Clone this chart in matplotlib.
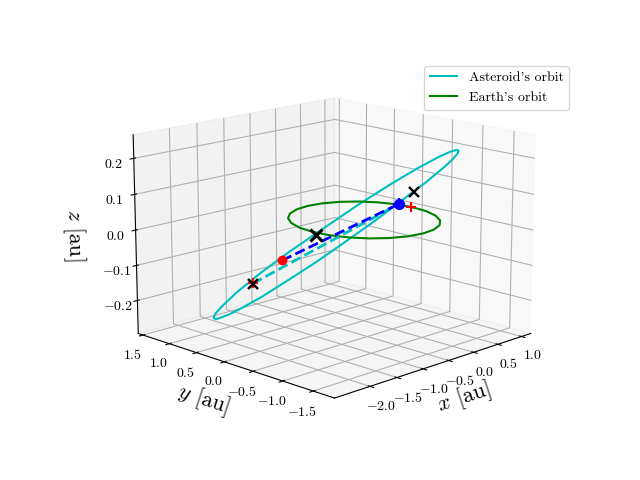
#!/usr/bin/env python3
import matplotlib

matplotlib.use("Agg")
import matplotlib.pyplot as plt

plt.rcParams["font.family"] = ["cmr10", "DejaVu Serif"]
plt.rcParams["mathtext.fontset"] = "cm"
plt.rcParams["axes.formatter.use_mathtext"] = True
plt.rcParams["axes.unicode_minus"] = False

# asteroid orbit
AST_X = [0.984, 0.86, 0.629, 0.305, -0.09, -0.526, -0.976, -1.268, -1.543, -1.673, -1.794, -1.907,
         -2.012, -2.105, -2.19, -2.325, -2.432, -2.424, -2.3, -2.068, -1.743, -1.349, -0.912, -0.462,
         -0.17, 0.105, 0.235, 0.355, 0.469, 0.574, 0.667, 0.751, 0.885, 0.992, 0.984]
AST_Y = [0.171, 0.543, 0.87, 1.128, 1.302, 1.378, 1.352, 1.278, 1.162, 1.089, 1.006, 0.914,
         0.816, 0.71, 0.598, 0.358, -0.029, -0.421, -0.797, -1.128, -1.388, -1.565, -1.643, -1.617,
         -1.543, -1.426, -1.352, -1.269, -1.177, -1.078, -0.97, -0.857, -0.616, -0.225, 0.171]
AST_Z = [0.015, -0.056, -0.123, -0.184, -0.232, -0.267, -0.283, -0.284, -0.276, -0.27, -0.262, -0.25,
         -0.239, -0.225, -0.209, -0.174, -0.111, -0.043, 0.026, 0.091, 0.151, 0.199, 0.232, 0.248,
         0.249, 0.242, 0.235, 0.228, 0.217, 0.205, 0.192, 0.176, 0.142, 0.081, 0.015]

# earth orbit
EARTH_X = [1.0, 0.966, 0.866, 0.707, 0.5, 0.259, 0.0, -0.259, -0.5, -0.707, -0.866, -0.966,
           -1.0, -0.966, -0.866, -0.707, -0.5, -0.259, 0.0, 0.259, 0.5, 0.707, 0.866, 0.966, 1.0]
EARTH_Y = [0.0, 0.259, 0.5, 0.707, 0.866, 0.966, 1.0, 0.966, 0.866, 0.707, 0.5, 0.259,
           0.0, -0.259, -0.5, -0.707, -0.866, -0.966, -1.0, -0.966, -0.866, -0.707, -0.5, -0.259, 0.0]
EARTH_Z = [0.0] * 25

# positions of the markers
RED_DOT = (-1.82, -0.23, -0.039)
BLUE_DOT = (1.0, 0.245, 0.0)
BLACK_X = [-2.18, -0.955, 1.01]
BLACK_Y = [-0.06, -0.015, -0.015]
BLACK_Z = [-0.096, -0.009, 0.045]
RED_PLUS_X = [-2.175, 1.005]
RED_PLUS_Y = [-0.06, 0.04]
RED_PLUS_Z = [-0.095, 0.0]

X_TICKS = [-2.0, -1.5, -1.0, -0.5, 0.0, 0.5, 1.0]
Y_TICKS = [-1.5, -1.0, -0.5, 0.0, 0.5, 1.0, 1.5]
Z_TICKS = [-0.2, -0.1, 0.0, 0.1, 0.2]


def labels(ticks):
    return [f"${t:.1f}$" for t in ticks]


def main():
    fig = plt.figure(figsize=(6.4, 4.8), dpi=100)
    ax = fig.add_subplot(projection="3d")
    ax.set_proj_type("persp", focal_length=1.0)
    ax.set_box_aspect((4, 4, 2.92), zoom=1.175)
    pos = ax.get_position()
    ax.set_position([pos.x0 + 1.5 / 640, pos.y0 + 2 / 480, pos.width, pos.height])

    ax.plot(AST_X, AST_Y, AST_Z, color="c", label="Asteroid's orbit")
    ax.plot(EARTH_X, EARTH_Y, EARTH_Z, color="g", label="Earth's orbit")

    ax.plot([BLACK_X[0], BLUE_DOT[0]], [BLACK_Y[0], BLUE_DOT[1]], [BLACK_Z[0], BLUE_DOT[2]],
            color="c", ls="--", lw=2)
    ax.plot([RED_DOT[0], BLUE_DOT[0]], [RED_DOT[1], BLUE_DOT[1]], [RED_DOT[2], BLUE_DOT[2]],
            color="b", ls="--", lw=2)

    ax.plot(*[[v] for v in RED_DOT], "o", color="r", ms=6)
    ax.plot(*[[v] for v in BLUE_DOT], "o", color="b", ms=7)
    ax.plot(*[[v] for v in BLUE_DOT], "+", color="b", ms=9, mew=1.5)
    ax.plot(RED_PLUS_X, RED_PLUS_Y, RED_PLUS_Z, "+", color="r", ms=7, mew=1.5, ls="none")
    ax.plot(BLACK_X[0::2], BLACK_Y[0::2], BLACK_Z[0::2], "x", color="k", ms=7, mew=1.7, ls="none")
    # the one in the middle is drawn heavier
    ax.plot(BLACK_X[1:2], BLACK_Y[1:2], BLACK_Z[1:2], "x", color="k", ms=8, mew=2.2, ls="none")

    ax.set_xlim(-2.64, 1.2)
    ax.set_ylim(-1.84, 1.59)
    ax.set_zlim(-0.295, 0.265)
    ax.set_xticks(X_TICKS, labels(X_TICKS))
    ax.set_yticks(Y_TICKS, labels(Y_TICKS))
    ax.set_zticks(Z_TICKS, labels(Z_TICKS))
    ax.tick_params(labelsize=10)
    ax.tick_params(axis="x", pad=-1)
    ax.tick_params(axis="y", pad=-1)
    ax.tick_params(axis="z", pad=-1)

    ax.set_xlabel(r"$x$ [au]", fontsize=16, labelpad=-4)
    ax.set_ylabel(r"$y$ [au]", fontsize=16, labelpad=-3)
    ax.set_zlabel(r"$z$ [au]", fontsize=16, labelpad=0.6)

    ax.view_init(elev=14.5, azim=-135)
    ax.legend(loc="upper right", bbox_to_anchor=(569 / 640, 414 / 480),
              bbox_transform=fig.transFigure, borderaxespad=0)

    fig.savefig("out.png", dpi=100)


if __name__ == "__main__":
    main()
